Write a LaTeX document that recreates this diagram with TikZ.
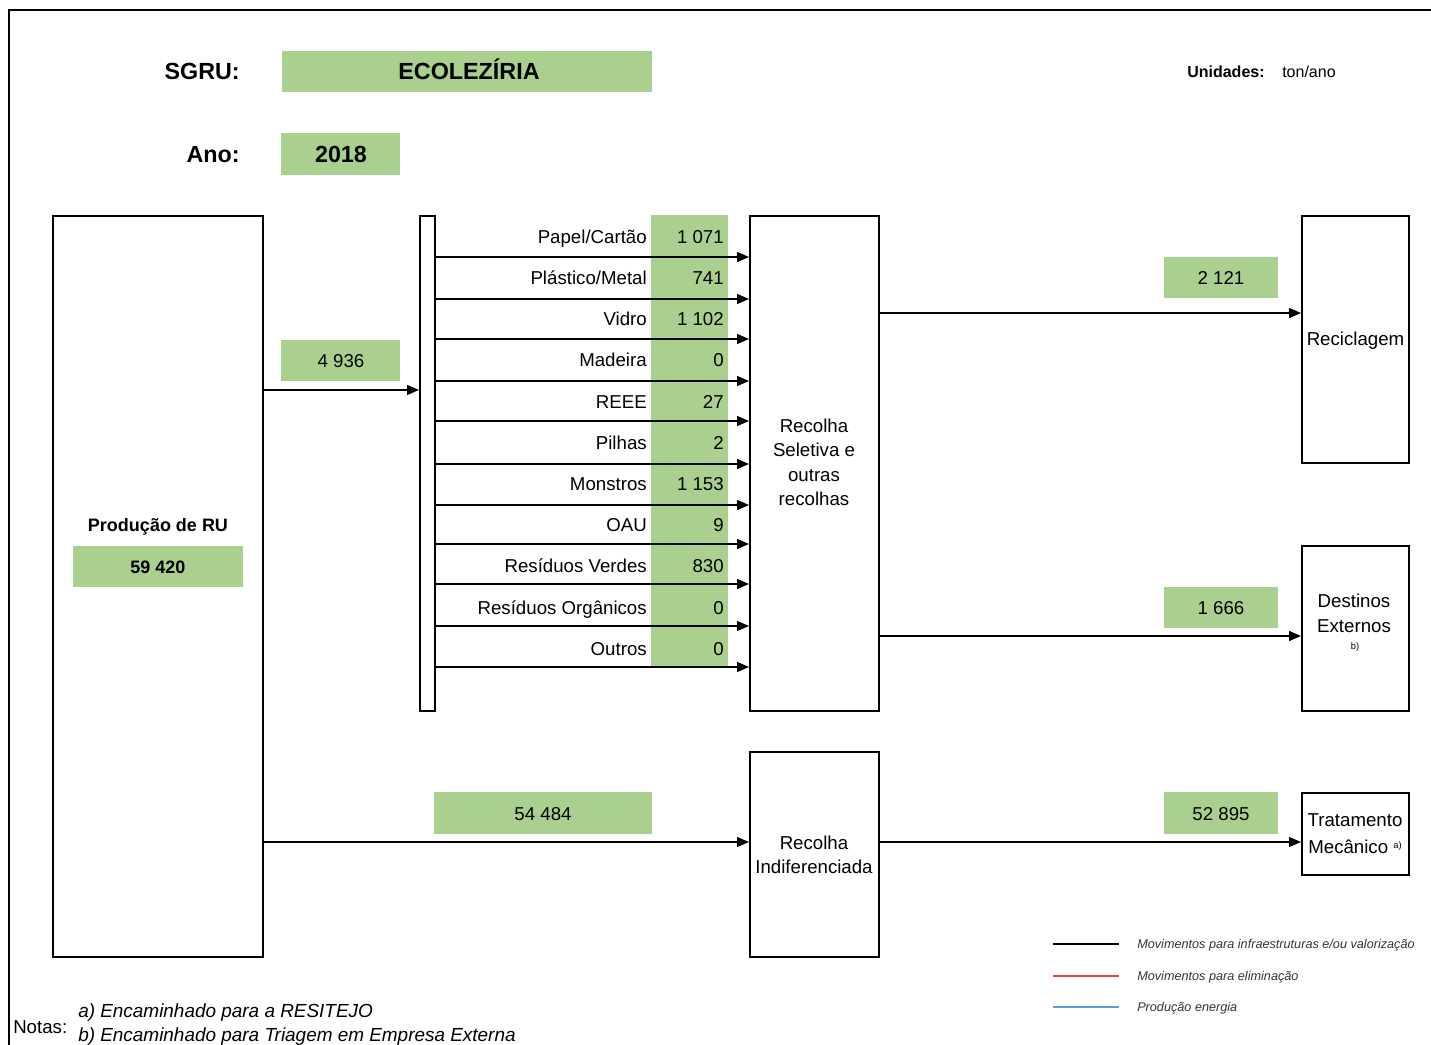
\documentclass[tikz,border=0pt]{standalone}
\usepackage{fontspec}
\setmainfont{Liberation Sans}
\usetikzlibrary{arrows.meta,fit}
\definecolor{gr}{RGB}{169,208,142}
\definecolor{legred}{RGB}{240,60,60}
\definecolor{legblue}{RGB}{91,155,213}
\newcommand\frow[4]{%
  \node[lab, anchor=base east] (l#3) at (647,#3+6.7) {#1};
  \node[lab, anchor=base east] (v#3) at (724,#3+6.7) {#2};
  \draw[arr] (bar.east |- 0,#4) -- (rs.west |- 0,#4);
}
\begin{document}
\begin{tikzpicture}[x=0.75pt,y=-0.75pt,
  box/.style={draw, line width=1.5pt, inner sep=0pt},
  gbox/.style={fill=gr, inner sep=0pt},
  arr/.style={line width=1pt, -{Triangle[length=9pt,width=7.5pt]}},
  lab/.style={font=\fontsize{14}{16.8}\selectfont, inner sep=0pt},
  titl/.style={font=\bfseries\fontsize{17.5}{20}\selectfont, inner sep=0pt},
  bnum/.style={font=\bfseries\fontsize{13.5}{16}\selectfont, inner sep=0pt},
  leg/.style={font=\itshape\fontsize{9.5}{11}\selectfont, inner sep=0pt, anchor=base west, text=black!80},
  note/.style={font=\itshape\fontsize{14.2}{17}\selectfont, inner sep=0pt, anchor=base west}]
\useasboundingbox (0,0) rectangle (1431,1045);
\draw[line width=1pt] (1431,10) -- (9,10) -- (9,1045);

% header
\node[titl, anchor=base east] (sgru) at (240,79.4) {SGRU:};
\node[gbox, fit={(282,51) (652,92)}] (eco) {};
\node[titl, anchor=base] (ecot) at (469,79.4) {ECOLEZÍRIA};
\node[titl, anchor=base east] (ano) at (240,162.4) {Ano:};
\node[gbox, fit={(281,133) (400,175)}] (yr) {};
\node[titl, anchor=base] (yrt) at (341,162.4) {2018};
\node[font=\bfseries\fontsize{12}{14}\selectfont, inner sep=0pt, anchor=base west] (un) at (1187,77.7) {Unidades:};
\node[font=\fontsize{12}{14}\selectfont, inner sep=0pt, anchor=base west] (unv) at (1282,77.7) {ton/ano};

% production
\node[box, fit={(53,216) (263,957)}] (prod) {};
\node[bnum, anchor=base] (prodt) at (158,531.5) {Produção de RU};
\node[gbox, fit={(73,546) (243,587)}] (prodv) {};
\node[bnum, anchor=base] (prodvt) at (158,573.5) {59 420};

% bar and selective collection
\node[box, fit={(420,216) (435,711)}] (bar) {};
\node[gbox, fit={(651,215) (728,667)}] (gcol) {};
\node[box, fit={(750,216) (879,711)}] (rs) {};
\node[lab, align=center, anchor=base, font=\fontsize{14}{18.3}\selectfont] (rst) at (814,505.7) {Recolha\\Seletiva e\\outras\\recolhas};

\draw[arr] (prod.east |- 0,390) -- (bar.west |- 0,390);
\node[gbox, fit={(281,340) (400,381)}] (g4936) {};
\node[lab, anchor=base] at (341,367.7) {4 936};

\frow{Papel/Cartão}{1 071}{237}{257}
\frow{Plástico/Metal}{741}{278}{299}
\frow{Vidro}{1 102}{319}{339}
\frow{Madeira}{0}{360}{381}
\frow{REEE}{27}{402}{421}
\frow{Pilhas}{2}{443}{464}
\frow{Monstros}{1 153}{484}{505}
\frow{OAU}{9}{525}{544}
\frow{Resíduos Verdes}{830}{566}{584}
\frow{Resíduos Orgânicos}{0}{608}{626}
\frow{Outros}{0}{649}{667}

% destinations
\node[box, fit={(1302,216) (1409,463)}] (rec) {};
\node[lab, anchor=base] (rect) at (1355.5,345.7) {Reciclagem};
\draw[arr] (rs.east |- 0,313) -- (rec.west |- 0,313);
\node[gbox, fit={(1164,257) (1278,298)}] (g2121) {};
\node[lab, anchor=base] at (1221,284.7) {2 121};

\node[box, fit={(1302,546) (1409,711)}] (dest) {};
\node[lab, align=center, anchor=base, font=\fontsize{14}{18.75}\selectfont] (destt) at (1354,632.7) {Destinos\\Externos};
\node[font=\fontsize{7}{8}\selectfont, inner sep=0pt, anchor=base] (destb) at (1355,649.5) {b)};
\draw[arr] (rs.east |- 0,636) -- (dest.west |- 0,636);
\node[gbox, fit={(1164,587) (1278,628)}] (g1666) {};
\node[lab, anchor=base] at (1221,614.7) {1 666};

% undifferentiated
\node[box, fit={(750,752) (879,957)}] (ri) {};
\node[lab, align=center, anchor=base, font=\fontsize{14}{18}\selectfont] (rit) at (814,873.7) {Recolha\\Indiferenciada};
\draw[arr] (prod.east |- 0,842) -- (ri.west |- 0,842);
\node[gbox, fit={(434,792) (652,834)}] (g54484) {};
\node[lab, anchor=base] at (543,820.7) {54 484};

\node[box, fit={(1302,793) (1409,875)}] (tm) {};
\node[lab, align=center, anchor=base, font=\fontsize{14}{20.25}\selectfont] (tmt) at (1355,853.7) {Tratamento\\Mecânico {\fontsize{7}{8}\selectfont\raisebox{0.55em}{a)}}};
\draw[arr] (ri.east |- 0,842) -- (tm.west |- 0,842);
\node[gbox, fit={(1164,792) (1278,834)}] (g52895) {};
\node[lab, anchor=base] at (1221,820.7) {52 895};

% legend
\draw[line width=0.8pt, black] (1053,944) -- (1119,944);
\draw[line width=0.8pt, legred] (1053,976) -- (1119,976);
\draw[line width=0.8pt, legblue] (1053,1007) -- (1119,1007);
\node[leg] (leg1) at (1137,948) {Movimentos para infraestruturas e/ou valorização};
\node[leg] (leg2) at (1137,980) {Movimentos para eliminação};
\node[leg] (leg3) at (1137,1011) {Produção energia};

% notes
\node[lab, anchor=base west] (notas) at (13,1033.7) {Notas:};
\node[note] (na) at (78,1017.7) {a) Encaminhado para a RESITEJO};
\node[note] (nb) at (78,1041.7) {b) Encaminhado para Triagem em Empresa Externa};
\end{tikzpicture}
\end{document}
